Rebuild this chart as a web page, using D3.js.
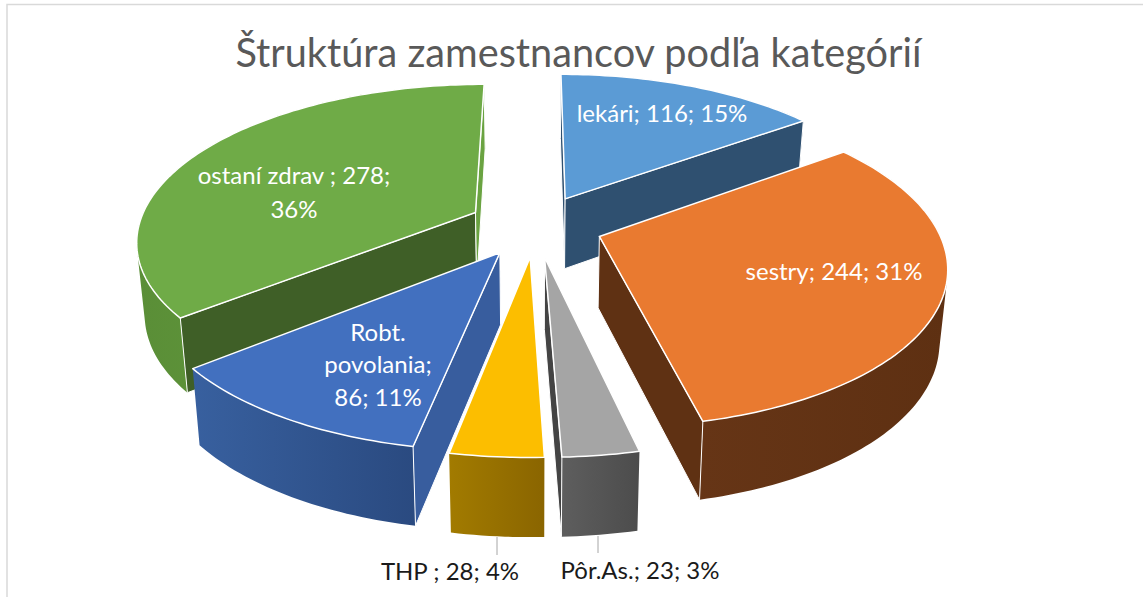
<!DOCTYPE html>
<html>
<head>
<meta charset="utf-8">
<script src="https://cdnjs.cloudflare.com/ajax/libs/d3/7.8.5/d3.min.js"></script>
<style>
  html, body { margin: 0; padding: 0; background: #fff; overflow: hidden; }
  text { font-family: Lato, "Open Sans", sans-serif; }
</style>
</head>
<body>
<svg id="chart"></svg>
<script>
const categories = ['lekári', 'sestry', 'Pôr.As.', 'THP ', 'Robt. povolania', 'ostaní zdrav '];
const values = [116, 244, 23, 28, 86, 278];
const percents = ['15%', '31%', '3%', '4%', '11%', '36%'];
const topColors = ['#5b9bd5', '#e97a30', '#a5a5a5', '#fcbe00', '#4270bf', '#6fab47'];
const sideColors = ['#2f5070', '#5f3113', '#444444', '#8c6800', '#385d9e', '#3f5f27'];
const rimRight = ['#2f5070', '#5e3012', '#4c4c4c', '#8a6500', '#2a4a80', '#6aa341'];
const rimLeft = ['#2f5070', '#663516', '#5e5e5e', '#a27b00', '#38609f', '#5a8e37'];
const title = 'Štruktúra zamestnancov podľa kategórií';

const width = 1143;
const height = 597;

// fake 3D: pie plane -> screen with a simple perspective
const cx = 535.5, cy = 225.5;
const rx = 337, ry = 154, persp = 0.17;
const explode = 0.2;
const depth = 71, depthPersp = 0.09, bottomShrink = 0.98;

const svg = d3.select('#chart').attr('width', width).attr('height', height);
const defs = svg.append('defs');

// frame, only top and left show in the picture
svg.append('path')
  .attr('d', d3.line()([[7, height], [7, 4.5], [width, 4.5]]))
  .attr('fill', 'none')
  .attr('stroke', '#d9d9d9')
  .attr('stroke-width', 1.5);

const topPoint = (X, Y) => {
  const w = 1 - persp * Y;
  return [cx + rx * X / w, cy + ry * Y / w];
};
const bottomPoint = (X, Y) => {
  const p = topPoint(X, Y);
  return [cx + (p[0] - cx) * bottomShrink, p[1] + depth / (1 - depthPersp * Y)];
};

const line = d3.line();
const slices = d3.pie().sort(null).value(d => d)(values);

const shapes = slices.map((d, i) => {
  const mid = (d.startAngle + d.endAngle) / 2;
  const ox = explode * Math.sin(mid);
  const oy = -explode * Math.cos(mid);
  const n = Math.ceil((d.endAngle - d.startAngle) / 0.02);
  const angles = d3.range(n + 1).map(j => d.startAngle + (d.endAngle - d.startAngle) * j / n);
  const rim = angles.map(a => [ox + Math.sin(a), oy - Math.cos(a)]);
  return { i, ox, oy, rim, start: d.startAngle, end: d.endAngle };
});

shapes.sort((a, b) => d3.ascending(a.oy, b.oy));

shapes.forEach(s => {
  const g = svg.append('g');
  const apex = [s.ox, s.oy];
  const last = s.rim[s.rim.length - 1];

  const grad = defs.append('linearGradient').attr('id', 'rim' + s.i);
  grad.append('stop').attr('offset', 0).attr('stop-color', rimLeft[s.i]);
  grad.append('stop').attr('offset', 1).attr('stop-color', rimRight[s.i]);

  // outer wall: quads all wound the same way in one path, so the silhouette stays filled without seams
  const wall = d3.pairs(s.rim).map(d => {
    const quad = [topPoint(...d[0]), topPoint(...d[1]), bottomPoint(...d[1]), bottomPoint(...d[0])];
    if (d3.polygonArea(quad) < 0) quad.reverse();
    return line(quad) + 'Z';
  }).join('');
  g.append('path')
    .attr('d', wall)
    .attr('fill', `url(#rim${s.i})`)
    .attr('fill-rule', 'nonzero');

  // cut faces, only the ones turned to the viewer
  const faces = [];
  if (-Math.sin(s.start) >= -1e-6) faces.push({ corner: s.rim[0], fill: sideColors[s.i] });
  if (Math.sin(s.end) >= -1e-6) faces.push({ corner: last, fill: s.i === 5 ? '#6aa341' : sideColors[s.i] });
  faces.forEach(f => {
    const pts = [topPoint(...apex), topPoint(...f.corner), bottomPoint(...f.corner), bottomPoint(...apex)];
    g.append('path')
      .attr('d', line(pts) + 'Z')
      .attr('fill', f.fill)
      .attr('stroke', '#fff')
      .attr('stroke-width', 1);
  });

  // top
  const face = [topPoint(...apex)].concat(s.rim.map(p => topPoint(...p)));
  g.append('path')
    .attr('d', line(face) + 'Z')
    .attr('fill', topColors[s.i])
    .attr('stroke', '#fff')
    .attr('stroke-width', 1.5)
    .attr('stroke-linejoin', 'round');
});

svg.append('text')
  .attr('x', 578.5)
  .attr('y', 67)
  .attr('text-anchor', 'middle')
  .attr('font-size', 39.7)
  .attr('fill', '#595959')
  .text(title);

// leader lines for the two small slices
[[497, 537, 555], [598, 536, 553]].forEach(l => {
  svg.append('line')
    .attr('x1', l[0]).attr('x2', l[0])
    .attr('y1', l[1]).attr('y2', l[2])
    .attr('stroke', '#a6a6a6')
    .attr('stroke-width', 1);
});

const labelSize = 24;
const labels = [
  { i: 0, x: 662, y: [122], lines: [`${categories[0]}; ${values[0]}; ${percents[0]}`] },
  { i: 1, x: 834, y: [280], lines: [`${categories[1]}; ${values[1]}; ${percents[1]}`] },
  { i: 2, x: 640, y: [579], lines: [`${categories[2]}; ${values[2]}; ${percents[2]}`] },
  { i: 3, x: 450, y: [580], lines: [`${categories[3]}; ${values[3]}; ${percents[3]}`] },
  { i: 4, x: 378, y: [341, 373, 406], lines: ['Robt.', 'povolania;', `${values[4]}; ${percents[4]}`] },
  { i: 5, x: 294, y: [184, 218], lines: [`${categories[5]}; ${values[5]};`, percents[5]] }
];
labels.forEach(l => {
  l.lines.forEach((t, j) => {
    svg.append('text')
      .attr('x', l.x)
      .attr('y', l.y[j])
      .attr('text-anchor', 'middle')
      .attr('font-size', labelSize)
      .attr('fill', l.i === 2 || l.i === 3 ? '#1a1a1a' : '#fff')
      .text(t);
  });
});
</script>
</body>
</html>
